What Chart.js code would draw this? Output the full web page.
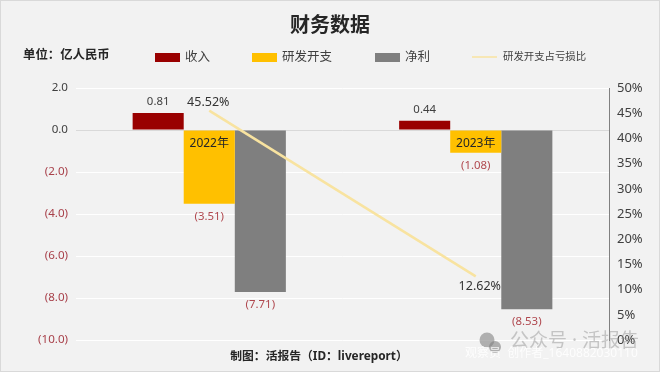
<!DOCTYPE html>
<html><head><meta charset="utf-8">
<style>html,body{margin:0;padding:0;background:#f2f2f2}#w{width:660px;height:372px;position:relative}canvas{display:block}</style>
<script src="https://cdn.jsdelivr.net/npm/chart.js@4"></script></head>
<body><div id="w"><canvas id="c" width="660" height="372"></canvas></div>
<script>
const categories = ['2022年','2023年'];
const revenue = [0.81,0.44];
const rnd = [-3.51,-1.08];
const netProfit = [-7.71,-8.53];
const rndRatio = [45.52,12.62];
const seriesNames = ['收入','研发开支','净利','研发开支占亏损比'];
const titleText = '财务数据';
const unitText = '单位：亿人民币';
const footerText = '制图：活报告（ID：livereport）';
const watermarkTop = '公众号 · 活报告';
const watermarkBottom = '观察员  创作者_1640882030110';
const FONT = '"Noto Sans","Noto Sans CJK SC",sans-serif';
const fmt = v => v<0 ? '('+Math.abs(v).toFixed(2)+')' : v.toFixed(2);

const labelPlugin = {
  id:'decor',
  beforeDraw(ch){
    const c=ch.ctx;c.save();c.fillStyle='#f2f2f2';c.fillRect(0,0,660,372);
    c.strokeStyle='#d9d9d9';c.lineWidth=1;c.strokeRect(.5,.5,659,371);c.restore();
  },
  afterDraw(ch){
    const c=ch.ctx;c.save();c.textBaseline='middle';c.textAlign='center';
    [0,1,2].forEach(d=>{
      const m=ch.getDatasetMeta(d);
      m.data.forEach((b,i)=>{
        const v=ch.data.datasets[d].data[i];
        c.font='11.4px '+FONT;
        c.fillStyle=v<0?'#b0484f':'#404040';
        c.fillText(fmt(v),b.x,b.y+(v<0?13:-11));
      });
    });
    const lm=ch.getDatasetMeta(3);
    c.font='12.5px '+FONT;c.fillStyle='#333';
    c.fillText(rndRatio[0].toFixed(2)+'%',lm.data[0].x-1,lm.data[0].y-8);
    c.fillText(rndRatio[1].toFixed(2)+'%',lm.data[1].x+4,lm.data[1].y+10);
    // footer
    c.font='bold 11.8px '+FONT;c.fillStyle='#262626';
    c.fillText(footerText,319,357);
    // unit
    c.textAlign='left';c.font='bold 12.4px '+FONT;c.fillStyle='#262626';
    c.fillText(unitText,23,55);
    // legend
    const colors=ch.data.datasets.map(d=>d.backgroundColor);
    const xs=[155,252,375,472];
    seriesNames.forEach((n,i)=>{
      if(i<3){c.fillStyle=colors[i];c.fillRect(xs[i],53,25,9);c.font='12.5px '+FONT;c.fillStyle='#404040';c.fillText(n,xs[i]+30,57);}
      else{c.strokeStyle=ch.data.datasets[3].borderColor;c.lineWidth=1.5;c.beginPath();c.moveTo(xs[i],57);c.lineTo(xs[i]+25,57);c.stroke();c.font='10.4px '+FONT;c.fillStyle='#404040';c.fillText(n,xs[i]+31,57);}
    });
    // watermark
    c.fillStyle='rgba(130,130,130,.6)';
    c.beginPath();c.arc(487,340,7.5,0,7);c.fill();
    c.beginPath();c.arc(495,347,6,0,7);c.fill();
    c.textAlign='left';c.font='19px '+FONT;c.fillStyle='rgba(140,140,140,.45)';
    c.fillText(watermarkTop,510,342);
    c.font='12px '+FONT;c.fillStyle='rgba(255,255,255,.85)';
    c.fillText(watermarkBottom,465,354);
    c.restore();
  }
};

new Chart(document.getElementById('c'),{
  data:{labels:categories,datasets:[
    {type:'bar',label:seriesNames[0],data:revenue,backgroundColor:'#990000',order:2},
    {type:'bar',label:seriesNames[1],data:rnd,backgroundColor:'#ffc000',order:2},
    {type:'bar',label:seriesNames[2],data:netProfit,backgroundColor:'#7f7f7f',order:2},
    {type:'line',label:seriesNames[3],data:rndRatio,yAxisID:'y2',borderColor:'#f8e3a0',borderWidth:2.5,pointRadius:0,tension:0,order:1}
  ]},
  options:{
    responsive:false,animation:false,
    layout:{padding:{left:0,right:0,top:0,bottom:32}},
    datasets:{bar:{categoryPercentage:.575,barPercentage:1}},
    plugins:{
      legend:{display:false},tooltip:{enabled:false},
      title:{display:true,text:titleText,color:'#262626',font:{family:FONT,size:20,weight:'bold'},padding:{top:14,bottom:50}},
    },
    scales:{
      x:{position:{y:0},grid:{display:false,drawTicks:false},border:{display:false},
         ticks:{z:1,color:'#262626',font:{family:FONT,size:12},padding:6,maxRotation:0}},
      y:{min:-10,max:2,position:'left',afterFit:s=>{s.width=76},
         grid:{color:ctx=>ctx.tick&&ctx.tick.value===0?'#d9d9d9':'#ffffff',drawTicks:false,lineWidth:1},
         border:{display:false},
         ticks:{stepSize:2,padding:8,font:{family:FONT,size:11.6},
           color:ctx=>ctx.tick.value<0?'#a8404a':'#404040',
           callback:v=>v<0?'('+Math.abs(v).toFixed(1)+')':v.toFixed(1)}},
      y2:{min:0,max:50,position:'right',afterFit:s=>{s.width=51},
         grid:{display:false,drawOnChartArea:false,drawTicks:true,tickLength:4,color:'#808080'},
         border:{display:true,color:'#808080'},
         ticks:{stepSize:5,padding:4,color:'#404040',font:{family:FONT,size:13},callback:v=>v+'%'}}
    }
  },
  plugins:[labelPlugin]
});
</script></body></html>
